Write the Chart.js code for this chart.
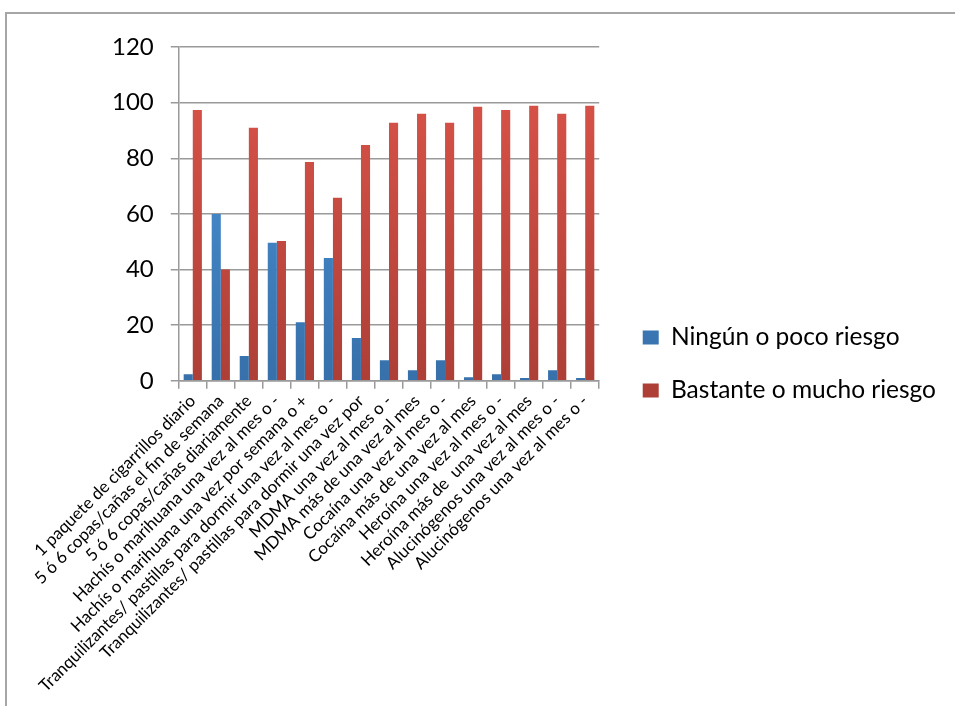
<!DOCTYPE html>
<html>
<head>
<meta charset="utf-8">
<script src="https://cdn.jsdelivr.net/npm/chart.js@4.4.1/dist/chart.umd.min.js"></script>
<style>
  body { margin: 0; background: #fff; }
  #frame { position: absolute; left: 5px; top: 12px; width: 960px; height: 700px;
           border-left: 2px solid #a6a6a6; border-top: 2px solid #a6a6a6; }
  #wrap { position: absolute; left: 0; top: 0; width: 955px; height: 706px; }
</style>
</head>
<body>
<div id="frame"></div>
<div id="wrap"><canvas id="riesgoChart"></canvas></div>
<script>
const categories = [
  "1 paquete de cigarrillos diario",
  "5 ó 6 copas/cañas el fin de semana",
  "5 ó 6 copas/cañas diariamente",
  "Hachís o marihuana una vez al mes o -",
  "Hachís o marihuana una vez por semana o +",
  "Tranquilizantes/ pastillas para dormir una vez al mes o -",
  "Tranquilizantes/ pastillas para dormir una vez por",
  "MDMA una vez al mes o -",
  "MDMA más de una vez al mes",
  "Cocaína una vez al mes o -",
  "Cocaína más de una vez al mes",
  "Heroína una vez al mes o -",
  "Heroína más de  una vez al mes",
  "Alucinógenos una vez al mes o -",
  "Alucinógenos una vez al mes o -"
];
const seriesNames = ["Ningún o poco riesgo", "Bastante o mucho riesgo"];
const ningunValues = [2.4, 60, 8.9, 49.6, 21.1, 44.2, 15.4, 7.4, 3.8, 7.4, 1.3, 2.4, 1.0, 3.8, 1.0];
const bastanteValues = [97.4, 40, 91, 50.3, 78.7, 65.8, 84.8, 92.8, 96, 92.8, 98.5, 97.4, 98.9, 96, 98.9];
const yMin = 0, yMax = 120, yStep = 20;

const font = "Lato";

// vertical gradient like the office-style bars
const makeGradient = (top, bottom) => (ctx) => {
  const area = ctx.chart.chartArea;
  if (!area) return bottom;
  const g = ctx.chart.ctx.createLinearGradient(0, area.top, 0, area.bottom);
  g.addColorStop(0, top);
  g.addColorStop(1, bottom);
  return g;
};

// empty axes only used as spacers
const spacer = (size, horizontal) => ({
  position: horizontal ? "top" : "right",
  axis: horizontal ? "x" : "y",
  display: true,
  grid: { display: false },
  border: { display: false },
  ticks: { display: false },
  afterFit: (scale) => {
    if (horizontal) scale.height = size; else scale.width = size;
  }
});

new Chart(document.getElementById("riesgoChart"), {
  type: "bar",
  data: {
    labels: categories,
    datasets: [
      { label: seriesNames[0], data: ningunValues,
        backgroundColor: makeGradient("#4d98df", "#3770aa") },
      { label: seriesNames[1], data: bastanteValues,
        backgroundColor: makeGradient("#de554a", "#ad3f37") }
    ]
  },
  options: {
    responsive: true,
    maintainAspectRatio: false,
    animation: false,
    datasets: { bar: { categoryPercentage: 0.65, barPercentage: 1.0 } },
    layout: { padding: { left: 95, top: 30, right: 9, bottom: 8 } },
    plugins: {
      tooltip: { enabled: false },
      legend: {
        position: "right",
        align: "center",
        maxWidth: 345,
        labels: {
          boxWidth: 16, boxHeight: 14, padding: 28.5,
          color: "#000",
          font: { family: font, size: 24.5 }
        }
      }
    },
    scales: {
      x: {
        offset: true,
        grid: { display: true, drawOnChartArea: false, drawTicks: true, tickLength: 8,
                color: "#9a9a9a", lineWidth: 1.5, offset: true },
        border: { display: true, color: "#9a9a9a", width: 1.5 },
        ticks: { autoSkip: false, maxRotation: 45, minRotation: 45, padding: 2,
                 color: "#000", font: { family: font, size: 17 } }
      },
      y: {
        min: yMin, max: yMax,
        grid: { color: "#9a9a9a", lineWidth: 1.5, tickLength: 8 },
        border: { display: true, color: "#9a9a9a", width: 1.5 },
        ticks: { stepSize: yStep, padding: 17, color: "#000",
                 font: { family: font, size: 24 } }
      },
      gapTop: spacer(17, true),
      gapRight: spacer(15, false)
    }
  }
});
</script>
</body>
</html>
